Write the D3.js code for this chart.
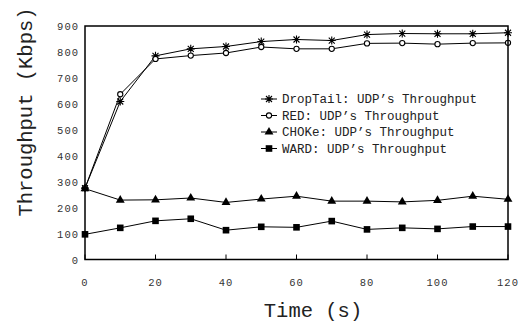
<!DOCTYPE html>
<html>
<head>
<meta charset="utf-8">
<script src="https://cdn.jsdelivr.net/npm/d3@7"></script>
<style>
	body { margin: 0; background: #fff; }
	svg { display: block; }
</style>
</head>
<body>
<svg id="chart" width="523" height="323"></svg>
<script>
// data
const times = [0, 10, 20, 30, 40, 50, 60, 70, 80, 90, 100, 110, 120];
const dropTail = [275, 609, 785, 812, 821, 840, 848, 844, 867, 871, 870, 870, 874];
const red = [275, 637, 773, 786, 796, 819, 812, 812, 833, 834, 830, 834, 835];
const choke = [273, 229, 230, 237, 220, 233, 244, 225, 225, 222, 228, 244, 232];
const ward = [97, 122, 149, 157, 113, 126, 124, 148, 116, 122, 118, 127, 127];
const xTicks = [0, 20, 40, 60, 80, 100, 120];
const yTicks = [0, 100, 200, 300, 400, 500, 600, 700, 800, 900];
const seriesNames = ["DropTail: UDP\u2019s Throughput", "RED: UDP\u2019s Throughput",
	"CHOKe: UDP\u2019s Throughput", "WARD: UDP\u2019s Throughput"];

const params = {
	left: 85, right: 508, top: 26, bottom: 259.5,
	mono: "'Liberation Mono', 'Courier New', monospace"
};

const svg = d3.select("#chart");

const x = d3.scaleLinear().domain([0, 120]).range([params.left, params.right]),
	y = d3.scaleLinear().domain([0, 900]).range([params.bottom, params.top]);

const series = [
	{ name: seriesNames[0], values: dropTail, marker: "star" },
	{ name: seriesNames[1], values: red, marker: "circle" },
	{ name: seriesNames[2], values: choke, marker: "triangle" },
	{ name: seriesNames[3], values: ward, marker: "square" }
];

// marker drawing
function drawMarker(g, type, cx, cy) {
	if (type == "star") {
		const r = 4;
		g.append("path")
			.attr("d", `M${cx - r},${cy}H${cx + r}M${cx},${cy - r}V${cy + r}` +
				`M${cx - r * 0.75},${cy - r * 0.75}L${cx + r * 0.75},${cy + r * 0.75}` +
				`M${cx - r * 0.75},${cy + r * 0.75}L${cx + r * 0.75},${cy - r * 0.75}`)
			.attr("stroke", "#000").attr("stroke-width", 1.1).attr("fill", "none");
	} else if (type == "circle") {
		g.append("circle").attr("cx", cx).attr("cy", cy).attr("r", 2.6)
			.attr("fill", "#fff").attr("stroke", "#000").attr("stroke-width", 1.1);
	} else if (type == "triangle") {
		g.append("path")
			.attr("d", d3.symbol().type(d3.symbolTriangle).size(34)())
			.attr("transform", `translate(${cx},${cy})`)
			.attr("fill", "#000");
	} else {
		g.append("rect").attr("x", cx - 3.3).attr("y", cy - 3.3)
			.attr("width", 6.6).attr("height", 6.6).attr("fill", "#000");
	}
}

// lines + markers
const line = d3.line().x((d, i) => x(times[i])).y(d => y(d));
series.forEach(s => {
	const g = svg.append("g");
	g.append("path").datum(s.values)
		.attr("d", line)
		.attr("fill", "none").attr("stroke", "#000").attr("stroke-width", 1);
	s.values.forEach((v, i) => drawMarker(g, s.marker, x(times[i]), y(v)));
});

// frame
svg.append("rect")
	.attr("x", params.left).attr("y", params.top)
	.attr("width", params.right - params.left).attr("height", params.bottom - params.top)
	.attr("fill", "none").attr("stroke", "#000").attr("stroke-width", 1.5);

// x ticks (inside, upward) and labels
const xAxis = svg.append("g");
xTicks.forEach(t => {
	xAxis.append("line")
		.attr("x1", x(t)).attr("x2", x(t))
		.attr("y1", params.bottom).attr("y2", params.bottom - 5)
		.attr("stroke", "#000").attr("stroke-width", 1);
	xAxis.append("text")
		.attr("x", x(t)).attr("y", 286)
		.attr("text-anchor", "middle")
		.attr("font-family", params.mono).attr("font-size", 10.5)
		.attr("letter-spacing", 1).attr("fill", "#333")
		.text(t);
});

// y labels
const yAxis = svg.append("g");
yTicks.forEach(t => {
	yAxis.append("text")
		.attr("x", 79).attr("y", y(t) + 4)
		.attr("text-anchor", "end")
		.attr("font-family", params.mono).attr("font-size", 10.5)
		.attr("letter-spacing", 1).attr("fill", "#333")
		.text(t);
});

// axis titles
svg.append("text")
	.attr("x", 313).attr("y", 317)
	.attr("text-anchor", "middle")
	.attr("font-family", params.mono).attr("font-size", 20.5)
	.attr("fill", "#222")
	.text("Time (s)");
svg.append("text")
	.attr("transform", "translate(32,112) rotate(-90)")
	.attr("text-anchor", "middle")
	.attr("font-family", params.mono).attr("font-size", 20.5)
	.attr("fill", "#222")
	.text("Throughput (Kbps)");

// legend
const legend = svg.append("g");
series.forEach((s, i) => {
	const ly = 99 + i * 16.5;
	legend.append("line")
		.attr("x1", 261).attr("x2", 277).attr("y1", ly).attr("y2", ly)
		.attr("stroke", "#000").attr("stroke-width", 1);
	drawMarker(legend, s.marker, 269, ly);
	legend.append("text")
		.attr("x", 282).attr("y", ly + 4)
		.attr("font-family", params.mono).attr("font-size", 12.5)
		.attr("fill", "#222")
		.text(s.name);
});
</script>
</body>
</html>
